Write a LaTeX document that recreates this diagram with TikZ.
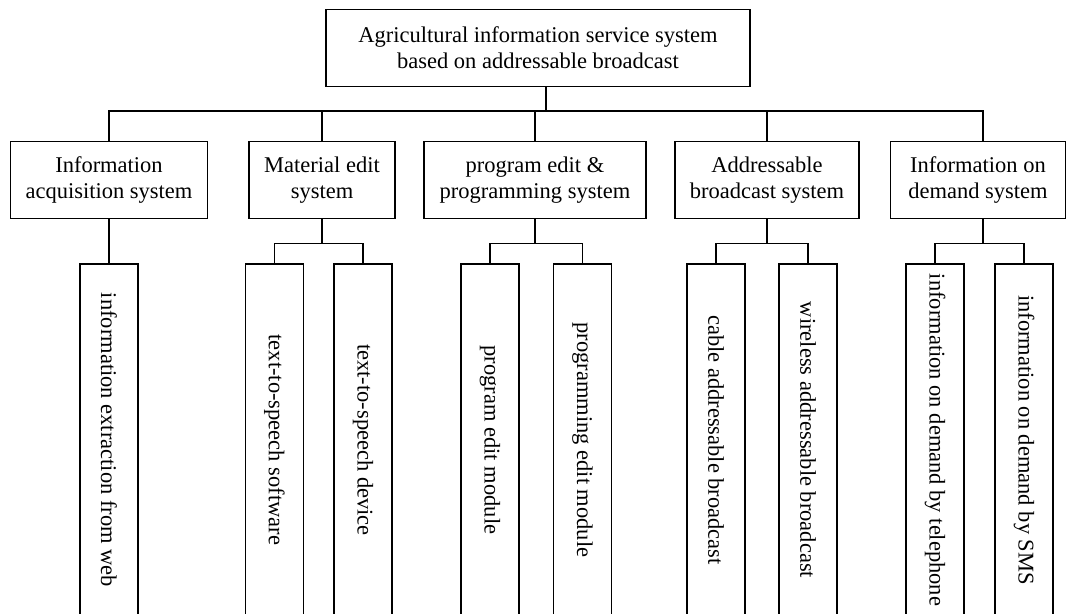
\documentclass[tikz,border=0pt]{standalone}
\usepackage{fontspec}
\setmainfont{Liberation Serif}
\usepackage{graphicx}
\begin{document}
\begin{tikzpicture}[x=0.5pt,y=-0.5pt,
		every node/.style={inner sep=0pt, font=\fontsize{11.25}{13}\selectfont},
		sysbox/.style={draw, line width=0.6pt, align=center, minimum height=38.5pt},
		leafbox/.style={draw, line width=0.6pt, minimum width=29pt, minimum height=176pt},
		link/.style={line width=0.6pt}]
		\useasboundingbox (0,0) rectangle (1066,614);
		\clip (0,0) rectangle (1066,614);
		% top box
		\node [sysbox, minimum width=212pt] (root) at (538,48) {Agricultural information service system\\based on addressable broadcast};
		% second level
		\node [sysbox, minimum width=98.5pt] (acq) at (109,180.3) {Information\\acquisition system};
		\node [sysbox, minimum width=73pt] (mat) at (322,180.3) {Material edit\\system};
		\node [sysbox, minimum width=111pt] (prg) at (535,180.3) {program edit \&\\programming system};
		\node [sysbox, minimum width=92pt] (abs) at (767,180.3) {Addressable\\broadcast system};
		\node [sysbox, minimum width=87.5pt] (ods) at (978,180.3) {Information on\\demand system};
		% leaves
		\node [leafbox] (web) at (109,440) {\rotatebox{-90}{information extraction from web}};
		\node [leafbox] (tts) at (274.5,440) {\rotatebox{-90}{text-to-speech software}};
		\node [leafbox] (ttd) at (363,440) {\rotatebox{-90}{text-to-speech device}};
		\node [leafbox] (pem) at (490,440) {\rotatebox{-90}{program edit module}};
		\node [leafbox] (pgm) at (582.5,440) {\rotatebox{-90}{programming edit module}};
		\node [leafbox] (cab) at (716,440) {\rotatebox{-90}{cable addressable broadcast}};
		\node [leafbox] (wab) at (808,440) {\rotatebox{-90}{wireless addressable broadcast}};
		\node [leafbox] (tel) at (935,440) {\rotatebox{-90}{information on demand by telephone}};
		\node [leafbox] (sms) at (1024,440) {\rotatebox{-90}{information on demand by SMS}};
		% connectors
		\draw [link] ([xshift=4pt]root.south) -- ++(0,24) coordinate (bus);
		\draw [link] (acq.north) |- (bus) -| ([xshift=2.5pt]ods.north);
		\draw [link] (mat.north) -- (mat.north |- bus);
		\draw [link] (prg.north) -- (prg.north |- bus);
		\draw [link] (abs.north) -- (abs.north |- bus);
		\draw [link] (acq.south) -- (web.north);
		\draw [link] (mat.south) -- ++(0,24) coordinate (matbus);
		\draw [link] (tts.north) |- (matbus) -| (ttd.north);
		\draw [link] (prg.south) -- ++(0,24) coordinate (prgbus);
		\draw [link] (pem.north) |- (prgbus) -| (pgm.north);
		\draw [link] (abs.south) -- ++(0,24) coordinate (absbus);
		\draw [link] (cab.north) |- (absbus) -| (wab.north);
		\draw [link] ([xshift=2.5pt]ods.south) -- ++(0,24) coordinate (odsbus);
		\draw [link] (tel.north) |- (odsbus) -| (sms.north);
	\end{tikzpicture}
\end{document}
